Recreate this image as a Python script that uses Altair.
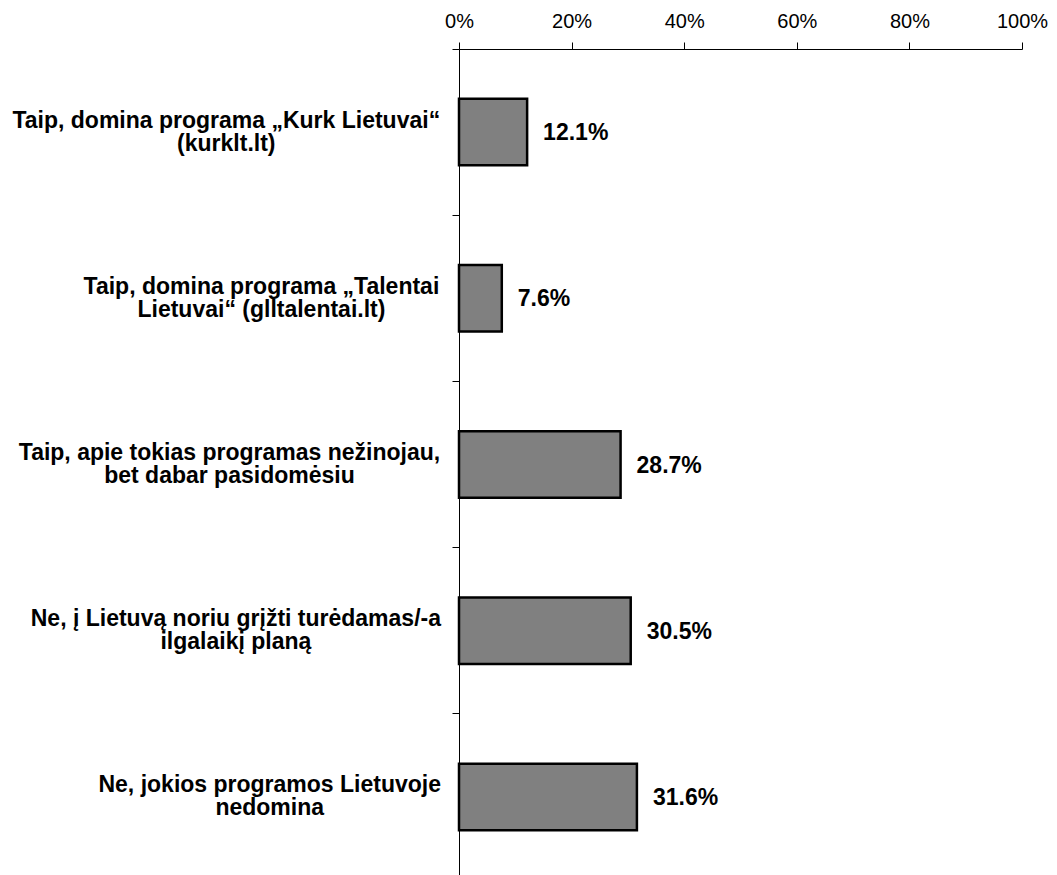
import altair as alt
import pandas as pd

# ---- data ----
categories = [
    "Taip, domina programa „Kurk Lietuvai“ (kurklt.lt)",
    "Taip, domina programa „Talentai Lietuvai“ (glltalentai.lt)",
    "Taip, apie tokias programas nežinojau, bet dabar pasidomėsiu",
    "Ne, į Lietuvą noriu grįžti turėdamas/-a ilgalaikį planą",
    "Ne, jokios programos Lietuvoje nedomina",
]
label_lines = [
    ["Taip, domina programa „Kurk Lietuvai“", "(kurklt.lt)"],
    ["Taip, domina programa „Talentai", "Lietuvai“ (glltalentai.lt)"],
    ["Taip, apie tokias programas nežinojau,", "bet dabar pasidomėsiu"],
    ["Ne, į Lietuvą noriu grįžti turėdamas/-a", "ilgalaikį planą"],
    ["Ne, jokios programos Lietuvoje", "nedomina"],
]
values = [12.1, 7.6, 28.7, 30.5, 31.6]
tick_values = [0, 20, 40, 60, 80, 100]

FONT = "Liberation Sans"
CAT_SIZE = 23
LINE_H = 23

# Arial/Liberation Sans Bold advance widths (1/1000 em) for block centering
BOLD_W = {
    " ": 278, "(": 333, ")": 333, ",": 278, "-": 333, ".": 278, "/": 278,
    "a": 556, "b": 611, "c": 556, "d": 611, "e": 556, "g": 611, "i": 278,
    "j": 278, "k": 556, "l": 278, "m": 889, "n": 611, "o": 611, "p": 611,
    "r": 389, "s": 556, "t": 333, "u": 611, "v": 556, "y": 556, "z": 500,
    "K": 722, "L": 611, "N": 722, "T": 611, "„": 500, "“": 500,
    "ž": 500, "ė": 556, "ą": 556, "į": 278, "š": 556,
}


def text_width(s, size):
    return sum(BOLD_W.get(c, 556) for c in s) / 1000.0 * size


RIGHT_EDGE = -18  # right edge of the label blocks, relative to the plot's left edge

df = pd.DataFrame({
    "cat": categories,
    "value": values,
    "label": ["\n".join(l) for l in label_lines],
    "value_text": [f"{v:.1f}%" for v in values],
    "lx": [RIGHT_EDGE - max(text_width(s, CAT_SIZE) for s in l) / 2 for l in label_lines],
})

W = 563
H = 826
STEP_RANGE = 831

y_scale = alt.Scale(domain=categories, paddingInner=0, paddingOuter=0, range=[0, STEP_RANGE])

base = alt.Chart(df)

bars = base.mark_bar(
    height=alt.RelativeBandSize(0.4), color="#808080", stroke="black", strokeWidth=2.5
).encode(
    x=alt.X(
        "value:Q",
        scale=alt.Scale(domain=[0, 100], nice=False),
        axis=alt.Axis(
            orient="top", values=tick_values, labelExpr="datum.value + '%'",
            labelFontSize=20, labelFont=FONT, labelColor="black", labelFlush=False,
            labelOverlap=False,
            tickSize=7, tickColor="black", domainColor="black",
            grid=False, title=None, labelPadding=11,
        ),
    ),
    y=alt.Y(
        "cat:N", sort=categories, scale=y_scale,
        axis=alt.Axis(
            labels=False, ticks=True, tickSize=7, bandPosition=0,
            tickColor="black", domainColor="black", grid=False, title=None,
        ),
    ),
)

value_labels = base.mark_text(
    align="left", baseline="middle", dx=16, dy=1, fontSize=23, fontWeight="bold",
    font=FONT, color="black",
).encode(
    x=alt.X("value:Q"),
    y=alt.Y("cat:N", sort=categories),
    text="value_text:N",
)

cat_labels = base.mark_text(
    align="center", baseline="middle", lineBreak="\n", lineHeight=LINE_H,
    dy=-LINE_H / 2, fontSize=CAT_SIZE, fontWeight="bold", font=FONT, color="black",
).encode(
    x=alt.X("lx:Q", scale=None),
    y=alt.Y("cat:N", sort=categories),
    text="label:N",
)

chart = alt.layer(bars, value_labels, cat_labels).properties(
    width=W, height=H,
    autosize=alt.AutoSizeParams(type="none"),
    padding={"left": 451, "top": 41, "right": 26, "bottom": 0},
    background="white",
).configure_view(stroke=None)

chart.save("out.html", embed_options={"renderer": "svg", "actions": False})
